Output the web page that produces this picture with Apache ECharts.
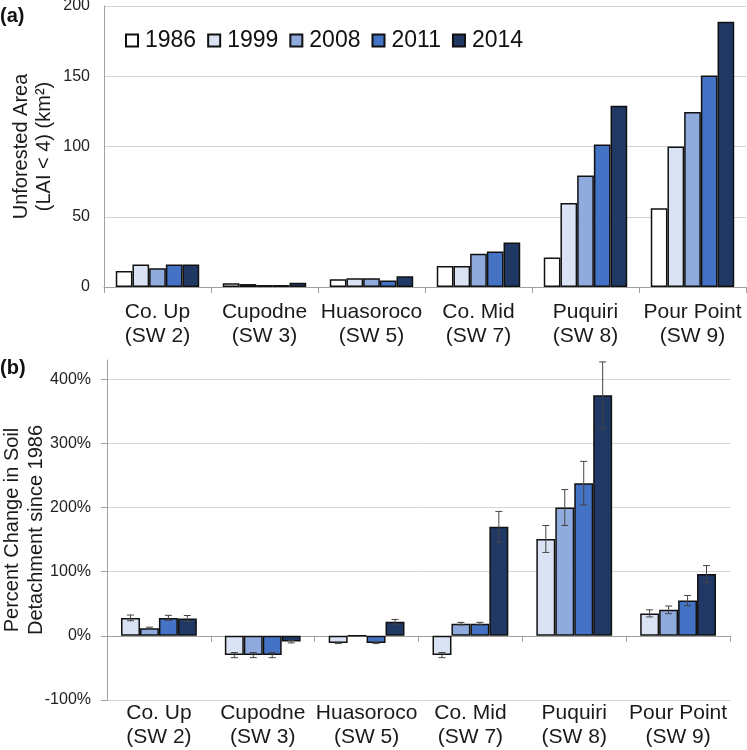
<!DOCTYPE html>
<html>
<head>
<meta charset="utf-8">
<script src="https://cdn.jsdelivr.net/npm/echarts@6/dist/echarts.min.js"></script>
<style>
html,body{margin:0;padding:0;background:#fff;}
#chart{width:747px;height:750px;}
</style>
</head>
<body>
<div id="chart"></div>
<script>
const categories = ['Co. Up\n(SW 2)', 'Cupodne\n(SW 3)', 'Huasoroco\n(SW 5)', 'Co. Mid\n(SW 7)', 'Puquiri\n(SW 8)', 'Pour Point\n(SW 9)'];
const years = ['1986', '1999', '2008', '2011', '2014'];
const colors = ['#ffffff', '#dae3f3', '#8faadc', '#4472c4', '#203864'];

// (a) Unforested area (km2)
const area1986 = [11.4, 2.6, 5.5, 15.0, 21.0, 56.0];
const area1999 = [16.0, 2.1, 6.2, 15.0, 59.8, 100.0];
const area2008 = [13.3, 1.4, 6.2, 23.6, 79.3, 124.5];
const area2011 = [16.0, 1.4, 4.7, 25.2, 101.4, 150.5];
const area2014 = [16.0, 3.1, 7.6, 31.7, 129.0, 188.8];

// (b) Percent change in soil detachment since 1986 (%), with error
const pct1999 = [28, -30, -11, -30, 151, 35];
const pct2008 = [12, -30, 0, 19, 200, 40.5];
const pct2011 = [28, -30, -11, 19, 238, 55];
const pct2014 = [27, -9, 22, 170, 375, 96.5];
const err1999 = [4.5, 4, 1, 4, 21, 5.5];
const err2008 = [1.5, 4, 0, 2, 28, 6];
const err2011 = [4, 4, 1, 2, 34, 8];
const err2014 = [4.7, 2, 3.6, 24, 52, 13];

const yTicksA = [0, 50, 100, 150, 200];
const yTicksB = [-100, 0, 100, 200, 300, 400];

const FONT = 'Liberation Sans, Arial, sans-serif';
const areaSeries = [area1986, area1999, area2008, area2011, area2014];
const pctSeries = [pct1999, pct2008, pct2011, pct2014];
const errSeries = [err1999, err2008, err2011, err2014];
const CAT_GAP_B = 0.27;

const series = [];
areaSeries.forEach((arr, i) => {
  series.push({
    name: years[i], type: 'bar', xAxisIndex: 0, yAxisIndex: 0,
    data: arr, barGap: '0%', barCategoryGap: '22%',
    itemStyle: {color: colors[i], borderColor: '#111', borderWidth: 1.5},
    emphasis: {disabled: true}
  });
});
pctSeries.forEach((arr, i) => {
  series.push({
    name: years[i + 1], type: 'bar', xAxisIndex: 1, yAxisIndex: 1,
    data: arr, barGap: '0%', barCategoryGap: (CAT_GAP_B * 100) + '%',
    itemStyle: {color: colors[i + 1], borderColor: '#111', borderWidth: 1.5},
    emphasis: {disabled: true}
  });
});
pctSeries.forEach((arr, i) => {
  series.push({
    name: 'err' + years[i + 1], type: 'custom', xAxisIndex: 1, yAxisIndex: 1, z: 5,
    data: arr.map((v, k) => [k, v, errSeries[i][k]]),
    encode: {x: 0, y: 1},
    renderItem: function (params, api) {
      const idx = api.value(0), v = api.value(1), e = api.value(2);
      if (!e) return null;
      const catW = api.size([1, 0])[0];
      const bw = catW * (1 - CAT_GAP_B) / 4;
      const off = (i - 1.5) * bw;
      const hi = api.coord([idx, v + e]);
      const lo = api.coord([idx, v - e]);
      const x = hi[0] + off;
      const c = 3.5;
      const st = {stroke: '#444', lineWidth: 1, fill: null};
      return {type: 'group', children: [
        {type: 'line', shape: {x1: x, y1: hi[1], x2: x, y2: lo[1]}, style: st},
        {type: 'line', shape: {x1: x - c, y1: hi[1], x2: x + c, y2: hi[1]}, style: st},
        {type: 'line', shape: {x1: x - c, y1: lo[1], x2: x + c, y2: lo[1]}, style: st}
      ]};
    },
    clip: false,
    silent: true
  });
});

const option = {
  animation: false,
  backgroundColor: '#fff',
  textStyle: {fontFamily: FONT},
  title: [
    {text: '(a)', left: 0, top: 6, padding: 0, textStyle: {fontFamily: FONT, fontSize: 20, fontWeight: 'bold', color: '#111'}},
    {text: '(b)', left: 0, top: 358, padding: 0, textStyle: {fontFamily: FONT, fontSize: 20, fontWeight: 'bold', color: '#111'}}
  ],
  legend: {
    data: years, left: 125, top: 29, orient: 'horizontal',
    icon: 'rect', itemWidth: 12, itemHeight: 12, itemGap: 11, padding: 0,
    textStyle: {fontFamily: FONT, fontSize: 23, color: '#111', padding: [0, 0, 0, 2]},
    selectedMode: false
  },
  grid: [
    {left: 104, top: 6, width: 642, height: 281, containLabel: false, outerBoundsMode: 'none'},
    {left: 107, top: 360, width: 623, height: 340, containLabel: false, outerBoundsMode: 'none'}
  ],
  xAxis: [
    {
      type: 'category', gridIndex: 0, data: categories,
      axisLine: {lineStyle: {color: '#a0a0a0', width: 1}},
      axisTick: {show: true, length: 6, lineStyle: {color: '#a0a0a0'}},
      axisLabel: {fontFamily: FONT, fontSize: 21, color: '#1a1a1a', margin: 13, lineHeight: 24, interval: 0}
    },
    {
      type: 'category', gridIndex: 1, data: categories, position: 'bottom',
      axisLine: {show: false, onZero: false},
      axisTick: {show: false},
      axisLabel: {fontFamily: FONT, fontSize: 21, color: '#1a1a1a', margin: 1, lineHeight: 24, interval: 0}
    },
    {
      type: 'category', gridIndex: 1, data: categories, position: 'top',
      axisLine: {show: true, onZero: true, lineStyle: {color: '#a0a0a0', width: 1}},
      axisTick: {show: true, inside: true, length: 6, lineStyle: {color: '#a0a0a0'}},
      axisLabel: {show: false}
    }
  ],
  yAxis: [
    {
      type: 'value', gridIndex: 0, min: yTicksA[0], max: yTicksA[yTicksA.length - 1], interval: 50,
      name: 'Unforested Area\n(LAI < 4) (km²)', nameLocation: 'middle', nameGap: 48, nameMoveOverlap: false,
      nameTextStyle: {fontFamily: FONT, fontSize: 20, color: '#1a1a1a', lineHeight: 23},
      axisLine: {show: true, lineStyle: {color: '#a0a0a0'}},
      axisTick: {show: false},
      axisLabel: {fontFamily: FONT, fontSize: 16, color: '#222', margin: 14},
      splitLine: {lineStyle: {color: '#d4d4d4', width: 1}}
    },
    {
      type: 'value', gridIndex: 1, min: yTicksB[0], max: 430, interval: 100,
      name: 'Percent Change in Soil\nDetachment since 1986', nameLocation: 'middle', nameGap: 59, nameMoveOverlap: false,
      nameTextStyle: {fontFamily: FONT, fontSize: 20, color: '#1a1a1a', lineHeight: 24},
      axisLine: {show: true, lineStyle: {color: '#a0a0a0'}},
      axisTick: {show: true, length: 6, lineStyle: {color: '#a0a0a0'}},
      axisLabel: {fontFamily: FONT, fontSize: 16, color: '#222', margin: 16, showMaxLabel: false,
        formatter: v => yTicksB.indexOf(v) >= 0 ? v + '%' : ''},
      splitLine: {lineStyle: {color: ['#d4d4d4', '#d4d4d4', '#d4d4d4', '#d4d4d4', '#d4d4d4', '#d4d4d4', 'rgba(0,0,0,0)'], width: 1}}
    }
  ],
  series: series
};

const chart = echarts.init(document.getElementById('chart'), null, {renderer: 'canvas'});
chart.setOption(option);
</script>
</body>
</html>
